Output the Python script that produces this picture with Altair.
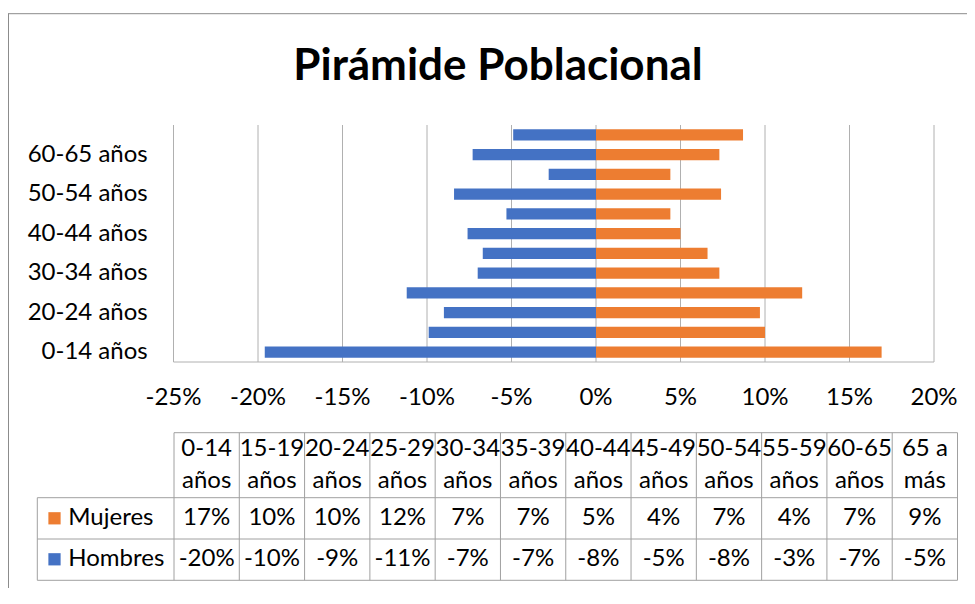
import altair as alt
import pandas as pd

# ---------------- data ----------------
title_text = "Pirámide Poblacional"
ages = ["0-14 años", "15-19 años", "20-24 años", "25-29 años", "30-34 años",
        "35-39 años", "40-44 años", "45-49 años", "50-54 años", "55-59 años",
        "60-65 años", "65 a más"]
mujeres = [0.169, 0.100, 0.097, 0.122, 0.073, 0.066, 0.050, 0.044, 0.074, 0.044, 0.073, 0.087]
hombres = [-0.196, -0.099, -0.090, -0.112, -0.070, -0.067, -0.076, -0.053, -0.084, -0.028, -0.073, -0.049]
series = ["Mujeres", "Hombres"]
colors = ["#ED7D31", "#4472C4"]
x_ticks = [-0.25, -0.20, -0.15, -0.10, -0.05, 0.0, 0.05, 0.10, 0.15, 0.20]

# ---------------- layout / style ----------------
FONT = "Lato"
FS = 24
TXT = "#000000"
GRID = "#b0b0b0"
TLINE = "#a0a0a0"
BORDER = "#8c8c8c"
X_RANGE = [165.5, 926]
Y_TOP, Y_BOT = 117, 354
COL_RANGE = [166, 949.5]
T_TOP, T_R1, T_R2, T_BOT = 424.7, 489.7, 531, 572.3
LEG_LEFT = 29.3

data = pd.DataFrame({
    "age": ages * 2,
    "idx": list(range(len(ages))) * 2,
    "series": [series[0]] * len(ages) + [series[1]] * len(ages),
    "value": mujeres + hombres,
})
age_df = pd.DataFrame({"age": ages, "idx": list(range(len(ages)))})
tick_df = pd.DataFrame({"tick": x_ticks})
bound_df = pd.DataFrame({"b": list(range(len(ages) + 1))})
series_df = pd.DataFrame({"series": series})
title_df = pd.DataFrame({"t": [title_text]})
one = pd.DataFrame({"k": [0]})

xscale = alt.Scale(domain=[-0.25, 0.20], range=X_RANGE)
yscale = alt.Scale(domain=ages[::-1], range=[Y_TOP, Y_BOT], paddingInner=0.42, paddingOuter=0.21)
colscale = alt.Scale(domain=[0, len(ages)], range=COL_RANGE)
rowscale = alt.Scale(type="point", domain=series, range=[510.3, 551.3], padding=0)
cscale = alt.Scale(domain=series, range=colors)

pct_expr = "(datum.{f} < 0 ? '-' : '') + format(abs(datum.{f}), '.0%')"


def hline(x1, x2, y, color):
    return alt.Chart(one).mark_rule(color=color, strokeWidth=1).encode(
        x=alt.value(x1), x2=alt.value(x2), y=alt.value(y))


def vline(x, y1, y2, color):
    return alt.Chart(one).mark_rule(color=color, strokeWidth=1).encode(
        x=alt.value(x), y=alt.value(y1), y2=alt.value(y2))


# border of the chart area
border_top = hline(0, 975, 5.7, BORDER)
border_left = vline(0.5, 5.7, 600, BORDER)

title = alt.Chart(title_df).mark_text(
    font=FONT, fontSize=44, fontWeight="bold", color=TXT, align="center", baseline="alphabetic"
).encode(x=alt.value(490), y=alt.value(72), text="t:N")

grid = alt.Chart(tick_df).mark_rule(color=GRID, strokeWidth=1).encode(
    x=alt.X("tick:Q", scale=xscale, axis=None),
    y=alt.value(Y_TOP), y2=alt.value(Y_BOT))

axis_line = hline(X_RANGE[0], X_RANGE[1], Y_BOT, GRID)

bars = alt.Chart(data).mark_bar().encode(
    x=alt.X("value:Q", scale=xscale, axis=None),
    y=alt.Y("age:N", scale=yscale, axis=None),
    color=alt.Color("series:N", scale=cscale, legend=None))

tick_labels = alt.Chart(tick_df).transform_calculate(
    label=pct_expr.format(f="tick")
).mark_text(font=FONT, fontSize=FS, color=TXT, align="center", baseline="middle").encode(
    x=alt.X("tick:Q", scale=xscale, axis=None),
    y=alt.value(390), text="label:N")

y_labels = alt.Chart(age_df).transform_filter("datum.idx % 2 == 0").mark_text(
    font=FONT, fontSize=FS, color=TXT, align="right", baseline="middle"
).encode(x=alt.value(139.7), y=alt.Y("age:N", scale=yscale, axis=None), text="age:N")

# ---------- data table ----------
t_vlines = alt.Chart(bound_df).mark_rule(color=TLINE, strokeWidth=1).encode(
    x=alt.X("b:Q", scale=colscale, axis=None),
    y=alt.value(T_TOP), y2=alt.value(T_BOT))
t_h0 = hline(COL_RANGE[0], COL_RANGE[1], T_TOP, TLINE)
t_h1 = hline(LEG_LEFT, COL_RANGE[1], T_R1, TLINE)
t_h2 = hline(LEG_LEFT, COL_RANGE[1], T_R2, TLINE)
t_h3 = hline(LEG_LEFT, COL_RANGE[1], T_BOT, TLINE)
t_vleft = vline(LEG_LEFT, T_R1, T_BOT, TLINE)

hdr_base = alt.Chart(age_df).transform_calculate(
    cellx="datum.idx + 0.5",
    h1="substring(datum.age, 0, lastindexof(datum.age, ' '))",
    h2="substring(datum.age, lastindexof(datum.age, ' ') + 1)",
)
hdr1 = hdr_base.mark_text(font=FONT, fontSize=FS, color=TXT, align="center", baseline="middle").encode(
    x=alt.X("cellx:Q", scale=colscale, axis=None), y=alt.value(441.3), text="h1:N")
hdr2 = hdr_base.mark_text(font=FONT, fontSize=FS, color=TXT, align="center", baseline="middle").encode(
    x=alt.X("cellx:Q", scale=colscale, axis=None), y=alt.value(473), text="h2:N")

cells = alt.Chart(data).transform_calculate(
    cellx="datum.idx + 0.5",
    label=pct_expr.format(f="value"),
).mark_text(font=FONT, fontSize=FS, color=TXT, align="center", baseline="middle").encode(
    x=alt.X("cellx:Q", scale=colscale, axis=None),
    y=alt.Y("series:N", scale=rowscale, axis=None),
    text="label:N")

leg_sq = alt.Chart(series_df).mark_square(size=150, opacity=1, filled=True).encode(
    x=alt.value(54.5 - 8),
    y=alt.Y("series:N", scale=rowscale, axis=None),
    color=alt.Color("series:N", scale=cscale, legend=None))
leg_txt = alt.Chart(series_df).mark_text(
    font=FONT, fontSize=FS, color=TXT, align="left", baseline="middle"
).encode(x=alt.value(60.3), y=alt.Y("series:N", scale=rowscale, axis=None), text="series:N")

chart = alt.layer(
    border_top, border_left, title, grid, bars, axis_line, tick_labels, y_labels,
    t_vlines, t_h0, t_h1, t_h2, t_h3, t_vleft, hdr1, hdr2, cells, leg_sq, leg_txt
).resolve_scale(
    x="independent", y="independent"
).properties(
    width=959, height=580, autosize="none", padding=0
).configure_view(stroke="transparent")

chart.save("out.html", embed_options={"renderer": "svg", "actions": False})
